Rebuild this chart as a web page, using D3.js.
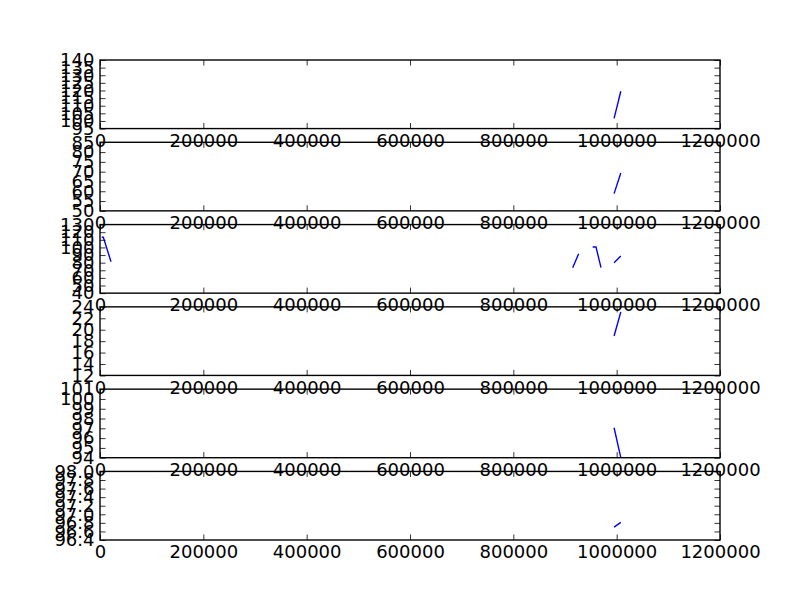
<!DOCTYPE html>
<html>
<head>
<meta charset="utf-8">
<script src="https://cdn.jsdelivr.net/npm/d3@7"></script>
<style>
html,body{margin:0;padding:0;background:#fff;}
</style>
</head>
<body>
<svg id="chart" width="800" height="600" font-family="DejaVu Sans"></svg>
<script>
// x positions (null marks a break in the line)
const xValues = [3300, 6400, 21300, null, 914900, 926500, null, 953600, 960000, 969700, null, 995000, 1008000];

// series values per panel (null = no data)
const series1 = [null, null, null, null, null, null, null, null, null, null, null, 101.7, 119.5];
const series2 = [null, null, null, null, null, null, null, null, null, null, null, 58.8, 69.3];
const series3 = [113.3, 113.3, 81.3, null, 73.4, 91.8, null, 100.6, 100.6, 73.4, null, 80.0, 88.7];
const series4 = [null, null, null, null, null, null, null, null, null, null, null, 18.9, 23.1];
const series5 = [null, null, null, null, null, null, null, null, null, null, null, 97.06, 94.0];
const series6 = [null, null, null, null, null, null, null, null, null, null, null, 96.70, 96.81];

// axis ranges / ticks
const xDomain = [0, 1200000];
const xTicks = [0, 200000, 400000, 600000, 800000, 1000000, 1200000];
const yDomains = [[95, 140], [50, 85], [40, 130], [12, 24], [94, 101], [96.4, 98.0]];
const yTicks = [
  [95, 100, 105, 110, 115, 120, 125, 130, 135, 140],
  [50, 55, 60, 65, 70, 75, 80, 85],
  [40, 50, 60, 70, 80, 90, 100, 110, 120, 130],
  [12, 14, 16, 18, 20, 22, 24],
  [94, 95, 96, 97, 98, 99, 100, 101],
  [96.4, 96.6, 96.8, 97.0, 97.2, 97.4, 97.6, 97.8, 98.0]
];
const yFormats = [d3.format("d"), d3.format("d"), d3.format("d"), d3.format("d"), d3.format("d"), d3.format(".1f")];

const allSeries = [series1, series2, series3, series4, series5, series6];

const svg = d3.select("#chart");
svg.append("rect").attr("width", 800).attr("height", 600).attr("fill", "#fff");

const left = 100, right = 720, top0 = 60, bottom0 = 540;
const n = 6, hspace = 0.2;
const h = (bottom0 - top0) / (n + (n - 1) * hspace);
const gap = h * hspace;
const tick = 5.56, pad = 5.56, fs = 18;
const FONT = "DejaVu Sans";

const x = d3.scaleLinear().domain(xDomain).range([left, right]);

allSeries.forEach((ys, i) => {
  const t = top0 + i * (h + gap);
  const b = t + h;
  const y = d3.scaleLinear().domain(yDomains[i]).range([b, t]);
  const g = svg.append("g");

  const clipId = "clip" + i;
  g.append("clipPath").attr("id", clipId).append("rect")
    .attr("x", left).attr("y", t).attr("width", right - left).attr("height", h);

  const pts = xValues.map((xv, k) => [xv, ys[k]]);
  const line = d3.line()
    .defined(d => d[0] !== null && d[1] !== null)
    .x(d => x(d[0])).y(d => y(d[1]));
  g.append("path").datum(pts)
    .attr("clip-path", `url(#${clipId})`)
    .attr("fill", "none").attr("stroke", "#0000ff").attr("stroke-width", 1.39)
    .attr("d", line);

  const ax = [
    g.append("g").attr("transform", `translate(0,${b})`)
      .call(d3.axisBottom(x).tickValues(xTicks).tickFormat(d3.format("d")).tickSizeInner(-tick).tickSizeOuter(0).tickPadding(pad)),
    g.append("g").attr("transform", `translate(0,${t})`)
      .call(d3.axisTop(x).tickValues(xTicks).tickFormat("").tickSizeInner(-tick).tickSizeOuter(0)),
    g.append("g").attr("transform", `translate(${left},0)`)
      .call(d3.axisLeft(y).tickValues(yTicks[i]).tickFormat(yFormats[i]).tickSizeInner(-tick).tickSizeOuter(0).tickPadding(pad)),
    g.append("g").attr("transform", `translate(${right},0)`)
      .call(d3.axisRight(y).tickValues(yTicks[i]).tickFormat("").tickSizeInner(-tick).tickSizeOuter(0))
  ];
  ax.forEach(a => {
    a.attr("font-family", FONT).attr("font-size", fs);
    a.select(".domain").remove();
    a.selectAll("line").attr("stroke", "#000").attr("stroke-width", 0.8);
    a.selectAll("text").attr("fill", "#000").attr("font-family", FONT).attr("font-size", fs);
  });

  g.append("rect").attr("x", left).attr("y", t).attr("width", right - left).attr("height", h)
    .attr("fill", "none").attr("stroke", "#000").attr("stroke-width", 1.39);
});
</script>
</body>
</html>
